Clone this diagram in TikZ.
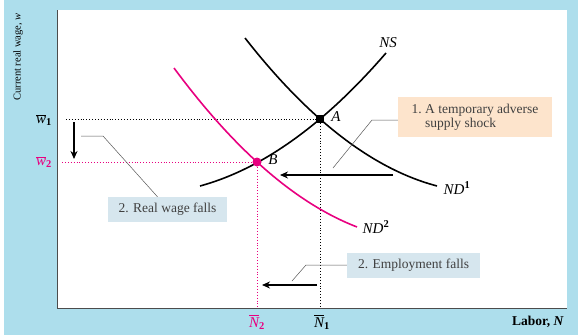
\documentclass[tikz,border=0pt]{standalone}
\usepackage{amsmath}
\usepackage{fontspec}
\setmainfont{Liberation Serif}
\usepackage{tikz}
\usetikzlibrary{arrows.meta}
\definecolor{bgblue}{RGB}{173,222,236}
\definecolor{hotpink}{RGB}{232,0,128}
\definecolor{peach}{RGB}{253,228,204}
\definecolor{paleblue}{RGB}{214,230,238}

\begin{document}
\begin{tikzpicture}[x=1pt, y=-1pt,
    every node/.style={font=\fontsize{15}{16}\selectfont},
    curve/.style={line width=1.6pt},
    guide/.style={dotted, line width=0.9pt},
    callout/.style={inner sep=3pt, align=left, text=black!75, font=\fontsize{13.5}{14}\selectfont},
    leader/.style={draw=black!65, line width=0.5pt},
    shiftarrow/.style={line width=1.6pt, -{Stealth[length=8pt,width=7pt]}}
]
    % Frame
    \useasboundingbox (0,0) rectangle (578,335);
    \fill[bgblue] (4,0) rectangle (578,335);
    \fill[white] (57,10) rectangle (567,308);
    \draw[black!70, line width=0.8pt] (57,10) -- (57,308) -- (567,308);

    % Equilibria
    \coordinate (A) at (320,119);
    \coordinate (B) at (257,162);

    % Guides
    \draw[guide] (66,119) -- (A) -- (A |- 0,308);
    \draw[guide, hotpink] (62,162) -- (B) -- (B |- 0,308);

    % Curves
    \draw[curve] plot[domain=200:386, samples=60]
        (\x, {186-0.2733*(\x-200)-0.2375*((\x-200)/10)^2});
    \draw[curve] plot[domain=245:437, samples=60]
        (\x, {38+1.278*(\x-245)-0.2642*((\x-245)/10)^2});
    \draw[curve, hotpink] plot[domain=174:357, samples=60]
        (\x, {68+1.3513*(\x-174)-0.2637*((\x-174)/10)^2});

    \node[fill=black, inner sep=0pt, minimum size=8pt] (ptA) at (A) {};
    \node[circle, fill=hotpink, inner sep=0pt, minimum size=9pt] (ptB) at (B) {};
    \node (lblA) at (336,117) {\textit{A}};
    \node (lblB) at (273,160) {\textit{B}};
    \node (ns) at (388,43) {\textit{NS}};
    \node (nd1) at (457,188) {$\textit{ND}^{\textbf{1}}$};
    \node (nd2) at (376,227) {$\textit{ND}^{\textbf{2}}$};

    % Axis labels
    \node (w1) at (44,120) {$\overline{\textit{w}}_{\textbf{1}}$};
    \node[text=hotpink] (w2) at (44,162) {$\overline{\textit{w}}_{\textbf{2}}$};
    \node[text=hotpink] (n2) at (257,322) {$\overline{\textit{N}}_{\textbf{2}}$};
    \node (n1) at (322,322) {$\overline{\textit{N}}_{\textbf{1}}$};
    \node[font=\fontsize{13.5}{14}\selectfont] (xlab) at (538,322) {\textbf{Labor, \textit{N}}};
    \node[rotate=90, font=\fontsize{10.5}{12}\selectfont] (ylab) at (18,57) {Current real wage, \textit{w}};

    % Shifts
    \coordinate (s1) at (393,175);
    \coordinate (s1end) at (280,175);
    \coordinate (s2) at (317,285);
    \coordinate (s2end) at (262,285);
    \coordinate (s3) at (74,122);
    \coordinate (s3end) at (74,159);
    \draw[shiftarrow] (s1) -- (s1end);
    \draw[shiftarrow] (s2) -- (s2end);
    \draw[shiftarrow] (s3) -- (s3end);

    % Callouts
    \node[callout, fill=peach, minimum width=154pt, minimum height=40pt] (shock) at (475,117)
        {1.~A temporary adverse\\\phantom{1.~}supply shock};
    \node[callout, fill=paleblue, minimum width=119pt, minimum height=25pt] (wage) at (167.5,209.5)
        {2. Real wage falls};
    \node[callout, fill=paleblue, minimum width=133pt, minimum height=25pt] (emp) at (413.5,265.5)
        {2. Employment falls};

    \coordinate (shockbend) at (372,120);
    \coordinate (shocktip) at (333,168);
    \coordinate (wagebend) at (103,136);
    \coordinate (wagetip) at (81,136);
    \coordinate (empbend) at (306,265);
    \coordinate (emptip) at (292,281);
    \draw[leader] (shock.west |- shockbend) -- (shockbend) -- (shocktip);
    \draw[leader] ([xshift=-10pt]wage.north) -- (wagebend) -- (wagetip);
    \draw[leader] (emp.west |- empbend) -- (empbend) -- (emptip);
\end{tikzpicture}
\end{document}
